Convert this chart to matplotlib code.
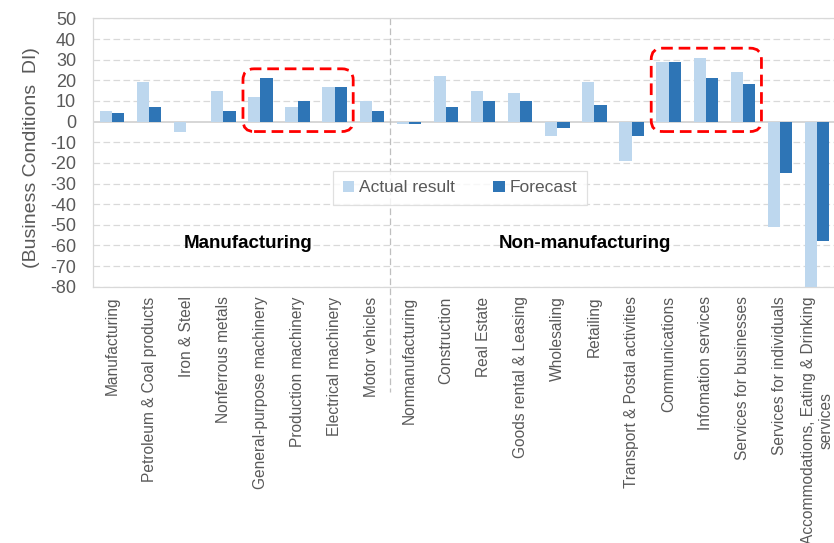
"""
Business Conditions DI by industry: actual result vs forecast
"""
import matplotlib
matplotlib.use('Agg')
import matplotlib.pyplot as plt
from matplotlib.patches import FancyBboxPatch

plt.rcParams['font.family'] = ['Liberation Sans', 'DejaVu Sans']

categories = ['Manufacturing', 'Petroleum & Coal products', 'Iron & Steel',
              'Nonferrous metals', 'General-purpose machinery',
              'Production machinery', 'Electrical machinery', 'Motor vehicles',
              'Nonmanufacturing', 'Construction', 'Real Estate',
              'Goods rental & Leasing', 'Wholesaling', 'Retailing',
              'Transport & Postal activities', 'Communications',
              'Infomation services', 'Services for businesses',
              'Services for individuals',
              'Accommodations, Eating & Drinking\nservices']
actual = [5, 19, -5, 15, 12, 7, 17, 10,
          -1, 22, 15, 14, -7, 19, -19, 29, 31, 24, -51, -80]
forecast = [4, 7, 0, 5, 21, 10, 17, 5,
            -1, 7, 10, 10, -3, 8, -7, 29, 21, 18, -25, -58]
yticks = list(range(-80, 51, 10))
n_manufacturing = 8
highlights = [('General-purpose machinery', 'Electrical machinery'),
              ('Communications', 'Services for businesses')]

LIGHT = '#BDD7EE'
DARK = '#2E75B6'
GREY = '#595959'


def plot_chart():
    fig = plt.figure(figsize=(8.34, 5.43), dpi=100)
    ax = fig.add_axes([0.112, 0.472, 0.890, 0.494])

    x = list(range(len(categories)))
    w = 0.33
    ax.bar([i - w / 2 for i in x], actual, w, color=LIGHT, label='Actual result', zorder=3)
    ax.bar([i + w / 2 for i in x], forecast, w, color=DARK, label='Forecast', zorder=3)

    ax.set_xlim(-0.5, len(categories) - 0.5)
    ax.set_ylim(-80, 50)
    ax.set_yticks(yticks)
    ax.set_yticklabels([str(t) for t in yticks], fontsize=13, color=GREY)
    ax.set_xticks(x)
    ax.set_xticklabels(categories, rotation=90, ha='center', va='top',
                       multialignment='center', fontsize=11.2, color=GREY)
    ax.tick_params(axis='y', length=0, pad=12.5)
    ax.tick_params(axis='x', length=0, pad=7)

    for t in yticks:
        if t == 0:
            ax.axhline(0, color='#D0D0D0', lw=1.2, zorder=2)
        else:
            ax.axhline(t, color='#D9D9D9', lw=0.9, ls=(0, (5.3, 2.7)), zorder=1)
    for s in ax.spines.values():
        s.set_color('#D9D9D9')
        s.set_linewidth(0.9)

    # divider between manufacturing and non-manufacturing
    ax.plot([n_manufacturing - 0.5] * 2, [50, -131], color='#BFBFBF', lw=0.9,
            ls=(0, (5.3, 2.7)), clip_on=False, zorder=2)

    ax.text(3.66, -59, 'Manufacturing', ha='center', va='center',
            fontsize=13.5, fontweight='bold', color='black')
    ax.text(12.75, -59, 'Non-manufacturing', ha='center', va='center',
            fontsize=13.5, fontweight='bold', color='black')

    fig.text(32 / 834, 1 - 158 / 543, '(Business Conditions  DI)', rotation=90,
             ha='center', va='center', fontsize=14, color=GREY)

    leg = ax.legend(loc='center', bbox_to_anchor=(0.494, 0.368), ncol=2,
                    fontsize=12.5, frameon=True, fancybox=False,
                    handlelength=0.65, handleheight=0.65, handletextpad=0.3,
                    columnspacing=2.2, borderpad=0.55, borderaxespad=0)
    leg.get_frame().set_edgecolor('#D9D9D9')
    leg.get_frame().set_linewidth(0.9)
    for txt in leg.get_texts():
        txt.set_color(GREY)

    # red dashed highlight boxes
    p0 = ax.transData.transform((0, 0))
    p1 = ax.transData.transform((1, 1))
    aspect = (p1[0] - p0[0]) / (p1[1] - p0[1])
    for first, last in highlights:
        i0 = categories.index(first)
        i1 = categories.index(last)
        top = max(actual[i0:i1 + 1] + forecast[i0:i1 + 1]) + 4.6
        bottom = -4.8
        box = FancyBboxPatch((i0 - 0.47, bottom), (i1 - i0) + 0.97, top - bottom,
                             boxstyle='round,pad=0,rounding_size=0.3',
                             mutation_aspect=aspect, fill=False,
                             edgecolor='#FF0000', lw=2, ls=(0, (4.2, 2.1)),
                             zorder=5, clip_on=False)
        ax.add_patch(box)

    plt.savefig('out.png', dpi=100)


if __name__ == '__main__':
    plot_chart()
